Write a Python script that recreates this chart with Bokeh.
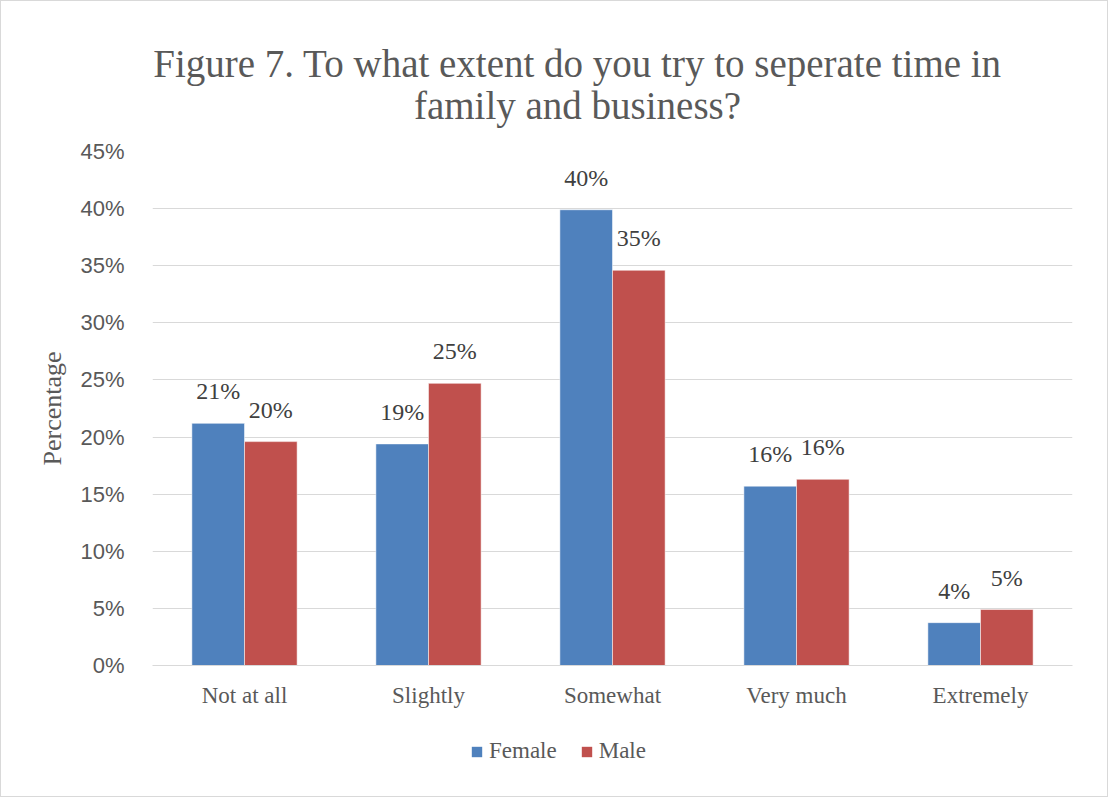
from bokeh.plotting import figure
from bokeh.layouts import column
from bokeh.models import (FactorRange, Range1d, FixedTicker, PrintfTickFormatter, LabelSet, Label,
                          ColumnDataSource, Legend, LegendItem)
from bokeh.transform import dodge
from bokeh.embed import file_html
from bokeh.resources import INLINE

categories = ["Not at all", "Slightly", "Somewhat", "Very much", "Extremely"]
female = [21.2, 19.4, 39.9, 15.7, 3.75]
male = [19.6, 24.7, 34.6, 16.3, 4.9]
y_ticks = [0, 5, 10, 15, 20, 25, 30, 35, 40, 45]
title_lines = ["Figure 7. To what extent do you try to seperate time in", "family and business?"]
series = ["Female", "Male"]

BLUE = "#4F81BD"
RED = "#C0504D"
GREY = "#595959"
SERIF = "Liberation Serif"
SANS = "Liberation Sans"

src = ColumnDataSource(dict(
    cat=categories, female=female, male=male,
    flab=[f"{round(v)}%" for v in female],
    mlab=[f"{round(v)}%" for v in male],
))

# ---- title strip ----
p0 = figure(width=1106, height=135, output_backend="svg", toolbar_location=None,
            x_range=Range1d(0, 1), y_range=Range1d(0, 135), min_border=0)
p0.axis.visible = False
p0.grid.grid_line_color = None
p0.outline_line_color = None
for txt, yb in zip(title_lines, [73, 31]):
    p0.add_layout(Label(x=0.462, y=yb, text=txt, text_align="center", text_baseline="alphabetic",
                        text_font=SERIF, text_font_size="39px", text_color=GREY))

# ---- main chart ----
p = figure(x_range=FactorRange(*categories), y_range=Range1d(0, 45),
           width=1106, height=585, output_backend="svg", toolbar_location=None,
           min_border_left=151, min_border_right=35, min_border_top=15, min_border_bottom=56)
p.outline_line_color = None
p.background_fill_color = "white"
p.border_fill_color = "white"

bw = 0.286
rf = p.vbar(x=dodge("cat", -bw / 2, range=p.x_range), top="female", width=bw, source=src,
            fill_color=BLUE, line_color="white", line_alpha=0.5, line_width=1)
rm = p.vbar(x=dodge("cat", bw / 2, range=p.x_range), top="male", width=bw, source=src,
            fill_color=RED, line_color="white", line_alpha=0.5, line_width=1)

for col, lab, off in (("female", "flab", -bw / 2), ("male", "mlab", bw / 2)):
    p.add_layout(LabelSet(x=dodge("cat", off, range=p.x_range), y=col, text=lab, source=src,
                          y_offset=32, text_align="center", text_baseline="middle",
                          text_font=SANS, text_font_size="24px", text_color="#404040"))

p.yaxis.ticker = FixedTicker(ticks=y_ticks)
p.yaxis.formatter = PrintfTickFormatter(format="%d%%")
p.yaxis.axis_line_color = None
p.yaxis.major_tick_line_color = None
p.yaxis.minor_tick_line_color = None
p.yaxis.major_label_text_font = SANS
p.yaxis.major_label_text_font_size = "22px"
p.yaxis.major_label_text_color = GREY
p.yaxis.major_label_standoff = 22
p.yaxis.axis_label = "Percentage"
p.yaxis.axis_label_text_font = SERIF
p.yaxis.axis_label_text_font_size = "26px"
p.yaxis.axis_label_text_font_style = "normal"
p.yaxis.axis_label_text_color = GREY
p.yaxis.axis_label_standoff = 10

p.xaxis.axis_line_color = "#d9d9d9"
p.xaxis.major_tick_line_color = None
p.xaxis.minor_tick_line_color = None
p.xaxis.major_label_text_font = SERIF
p.xaxis.major_label_text_font_size = "23px"
p.xaxis.major_label_text_color = GREY
p.xaxis.major_label_standoff = 11

p.xgrid.grid_line_color = None
p.ygrid.grid_line_color = "#d9d9d9"
p.ygrid.grid_line_width = 1

# ---- legend strip; proxy glyphs lie outside its range ----
p2 = figure(width=1106, height=75, output_backend="svg", toolbar_location=None,
            x_range=Range1d(0, 1), y_range=Range1d(0, 1), min_border=0)
p2.axis.visible = False
p2.grid.grid_line_color = None
p2.outline_line_color = None
lf = p2.vbar(x=[-5], top=[-5], bottom=[-6], width=0.1, fill_color=BLUE, line_color=None)
lm = p2.vbar(x=[-5], top=[-5], bottom=[-6], width=0.1, fill_color=RED, line_color=None)
legend = Legend(items=[LegendItem(label=series[0], renderers=[lf]), LegendItem(label=series[1], renderers=[lm])],
                orientation="horizontal", location=(318, 32), padding=0, margin=0, spacing=23,
                glyph_width=13, glyph_height=13, label_standoff=6,
                label_text_font=SERIF, label_text_font_size="23px", label_text_color=GREY,
                border_line_color=None, background_fill_alpha=0)
p2.add_layout(legend, "center")

layout = column(p0, p, p2, spacing=0, styles={"border": "1px solid #d9d9d9"})

open("out.html", "w").write(file_html(layout, INLINE))
